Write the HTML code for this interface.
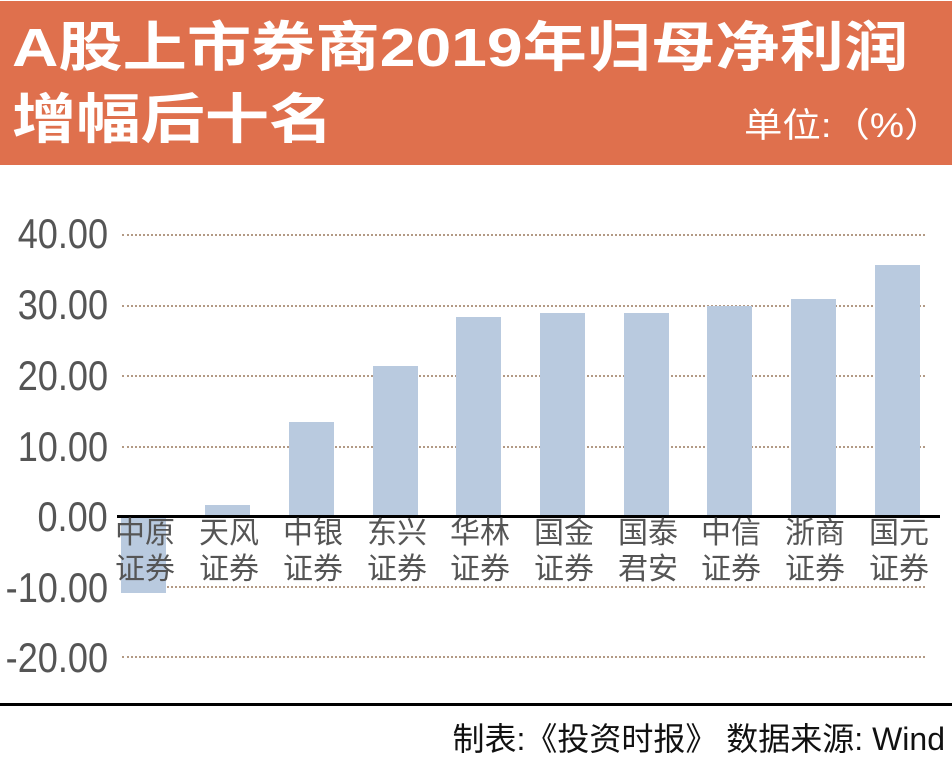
<!DOCTYPE html>
<html><head><meta charset="utf-8"><style>
body{margin:0;width:952px;height:770px;background:#fff;position:relative;overflow:hidden;font-family:"Liberation Sans","Noto Sans CJK SC",sans-serif}
.hdr{position:absolute;left:0;top:1px;width:952px;height:164px;background:#df704d}
.t{position:absolute;color:#fff;font-weight:bold;font-size:54px;white-space:nowrap;line-height:1;transform-origin:0 0}
.u{position:absolute;color:#fff;font-size:34px;left:744px;top:98px;white-space:nowrap;transform-origin:0 0;transform:scaleX(1.13)}
.yl{position:absolute;right:844px;font-size:42px;color:#555;line-height:1;transform-origin:100% 0;transform:scaleX(0.86)}
.g{position:absolute;left:122px;width:803px;border-top:2px dotted #b39a85;height:0}
.b{position:absolute;width:45px;background:#b9cadf}
.xl{position:absolute;font-size:30px;color:#555;line-height:36px;text-align:center;width:80px}
</style></head><body>
<div class="hdr"></div>
<div class="t" style="left:12px;top:21px;transform:scaleX(1.19)">A股上市券商2019年归母净利润</div>
<div class="t" style="left:12px;top:93px;transform:scaleX(1.19)">增幅后十名</div>
<div class="u">单位:（%）</div>

<div class="yl" style="top:213px">40.00</div>
<div class="yl" style="top:284px">30.00</div>
<div class="yl" style="top:355px">20.00</div>
<div class="yl" style="top:426px">10.00</div>
<div class="yl" style="top:496px">0.00</div>
<div class="yl" style="top:567px">-10.00</div>
<div class="yl" style="top:637px">-20.00</div>

<div class="g" style="top:234px"></div>
<div class="g" style="top:305px"></div>
<div class="g" style="top:375px"></div>
<div class="g" style="top:446px"></div>
<div class="g" style="top:586px"></div>
<div class="g" style="top:656px"></div>

<div class="b" style="left:121px;top:517px;height:76px"></div>
<div class="b" style="left:205px;top:505px;height:12px"></div>
<div class="b" style="left:289px;top:422px;height:95px"></div>
<div class="b" style="left:373px;top:366px;height:151px"></div>
<div class="b" style="left:456px;top:317px;height:200px"></div>
<div class="b" style="left:540px;top:313px;height:204px"></div>
<div class="b" style="left:624px;top:313px;height:204px"></div>
<div class="b" style="left:707px;top:306px;height:211px"></div>
<div class="b" style="left:791px;top:299px;height:218px"></div>
<div class="b" style="left:875px;top:265px;height:252px"></div>

<div style="position:absolute;left:117px;top:515px;width:823px;height:3px;background:#000"></div>

<div class="xl" style="left:105px;top:516px">中原<br>证券</div>
<div class="xl" style="left:189px;top:516px">天风<br>证券</div>
<div class="xl" style="left:273px;top:516px">中银<br>证券</div>
<div class="xl" style="left:357px;top:516px">东兴<br>证券</div>
<div class="xl" style="left:440px;top:516px">华林<br>证券</div>
<div class="xl" style="left:524px;top:516px">国金<br>证券</div>
<div class="xl" style="left:608px;top:516px">国泰<br>君安</div>
<div class="xl" style="left:691px;top:516px">中信<br>证券</div>
<div class="xl" style="left:775px;top:516px">浙商<br>证券</div>
<div class="xl" style="left:859px;top:516px">国元<br>证券</div>

<div style="position:absolute;left:0;top:703px;width:952px;height:3px;background:#000"></div>
<div style="position:absolute;right:7px;top:714px;font-size:32px;color:#111;white-space:nowrap">制表:《投资时报》 数据来源: Wind</div>
</body></html>
